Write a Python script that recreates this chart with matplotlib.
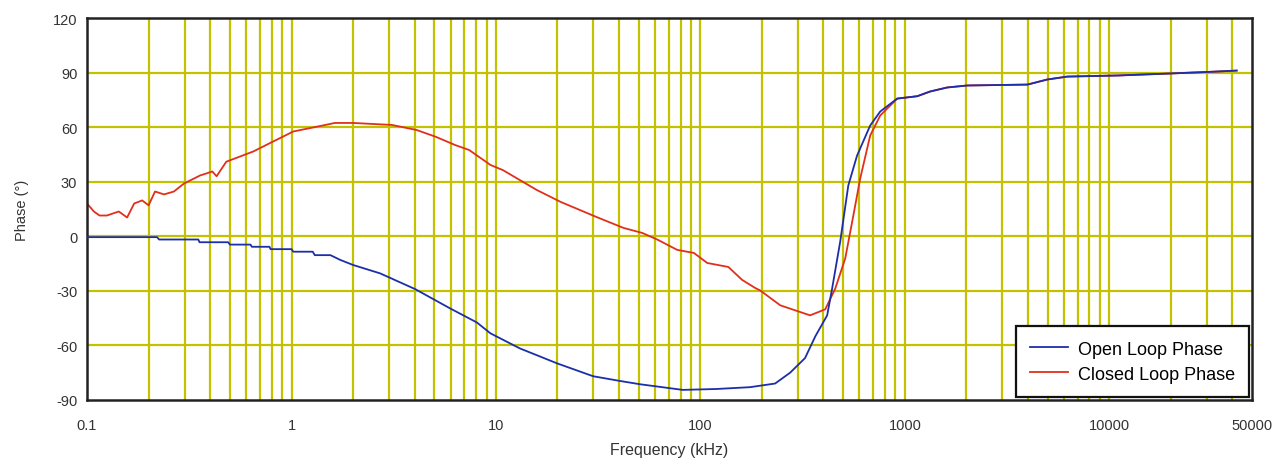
import matplotlib
matplotlib.use("agg")
import matplotlib.pyplot as plt
from matplotlib.ticker import FixedLocator, NullFormatter

plt.rcParams['font.family'] = ['Liberation Sans', 'DejaVu Sans']
plt.rcParams['axes.unicode_minus'] = False

# open loop phase
open_f = [0.1, 0.22, 0.225, 0.35, 0.355, 0.49, 0.5, 0.63, 0.64, 0.78, 0.79, 1.0,
          1.02, 1.27, 1.3, 1.55, 1.73, 2.0, 2.71, 4.03, 5.97, 8.06, 9.4, 13.1,
          19.9, 29.9, 40.5, 50.7, 82, 120, 175, 232, 275, 325, 365, 417, 441, 483,
          529, 584, 677, 758, 918, 1150, 1330, 1610, 2020, 3980, 4980, 6240, 11000,
          19900, 32500, 42000]
open_ph = [-0.5, -0.5, -1.8, -1.8, -3.3, -3.3, -4.6, -4.6, -5.8, -5.8, -7.1, -7.1,
           -8.5, -8.5, -10.4, -10.4, -13, -15.8, -20.4, -29.1, -39.7, -47.4, -53.4,
           -61.7, -69.9, -77, -79.6, -81.4, -84.5, -84, -83, -81, -75, -67, -55,
           -43.5, -28.7, -2.9, 27.9, 44.4, 60.9, 68.6, 75.7, 77, 79.6, 81.8, 82.9,
           83.4, 86.2, 87.8, 88.4, 89.5, 90.5, 91.1]

# closed loop phase
closed_f = [0.1, 0.108, 0.115, 0.125, 0.143, 0.157, 0.17, 0.186, 0.2, 0.215, 0.238,
            0.266, 0.298, 0.357, 0.41, 0.43, 0.48, 0.65, 0.81, 1.02, 1.3, 1.63, 2.0,
            3.1, 4.1, 5.1, 6.3, 7.4, 9.4, 10.8, 15.8, 20.7, 31, 42, 52, 62, 77, 93,
            108, 137, 160, 185, 196, 246, 344, 408, 457, 511, 560, 605, 677, 758,
            918, 1150, 1330, 1610, 2020, 3980, 4980, 6240, 11000, 19900, 32500, 42000]
closed_ph = [18, 13.6, 11.4, 11.4, 13.6, 10.3, 18, 19.7, 17, 24.6, 23, 24.6, 29,
             33.4, 35.6, 33, 41, 46.6, 52, 57.6, 60, 62.3, 62.3, 61.2, 58.4, 54.6,
             50.2, 47.4, 39.2, 36.4, 25.5, 18.9, 10.6, 4.6, 1.8, -2, -7.5, -9.2,
             -14.7, -16.9, -24, -28.4, -29.8, -38, -43.5, -40.2, -28.7, -12.2, 11.4,
             31.8, 55.4, 66.4, 75.7, 77, 79.6, 81.8, 82.9, 83.4, 86.2, 87.8, 88.4,
             89.5, 90.5, 91.1]

x_ticks = [0.1, 1, 10, 100, 1000, 10000, 50000]
x_tick_labels = ['0.1', '1', '10', '100', '1000', '10000', '50000']
y_ticks = [-90, -60, -30, 0, 30, 60, 90, 120]

fig = plt.figure(figsize=(12.86, 4.64), dpi=100)
ax = fig.add_axes([0.0677, 0.136, 0.906, 0.823])

grid_col = '#c2c200'
minor = [m * 10.0 ** d for d in range(-1, 5) for m in range(2, 10) if m * 10.0 ** d < 50000]
for xv in minor + x_ticks[1:-1]:
    ax.axvline(xv, color=grid_col, lw=1.6, zorder=1)
for yv in y_ticks[1:-1]:
    ax.axhline(yv, color=grid_col, lw=1.6, zorder=1)

ax.plot(open_f, open_ph, color='#1c2ea8', lw=1.3, label='Open Loop Phase', zorder=3)
ax.plot(closed_f, closed_ph, color='#e0301c', lw=1.3, label='Closed Loop Phase', zorder=2)

ax.set_xscale('log')
ax.set_xlim(0.1, 50000)
ax.set_ylim(-90, 120)
ax.xaxis.set_major_locator(FixedLocator(x_ticks))
ax.set_xticklabels(x_tick_labels)
ax.xaxis.set_minor_formatter(NullFormatter())
ax.set_yticks(y_ticks)
ax.tick_params(which='both', length=0, labelsize=10.5, colors='#333333')
ax.tick_params(axis='x', pad=13)
ax.tick_params(axis='y', pad=7)
for s in ax.spines.values():
    s.set_linewidth(1.8)
    s.set_color('#222222')

ax.set_xlabel('Frequency (kHz)', fontsize=11.5, color='#333333', labelpad=7)
ax.set_ylabel('Phase (°)', fontsize=10.5, color='#333333', labelpad=17)

leg = ax.legend(loc='lower right', fontsize=13, fancybox=False, framealpha=1,
                edgecolor='#111111', borderaxespad=0.15, handlelength=2.1,
                handletextpad=0.55, borderpad=0.8, labelspacing=0.45)
leg.get_frame().set_linewidth(1.6)

plt.savefig('out.png', dpi=100)
